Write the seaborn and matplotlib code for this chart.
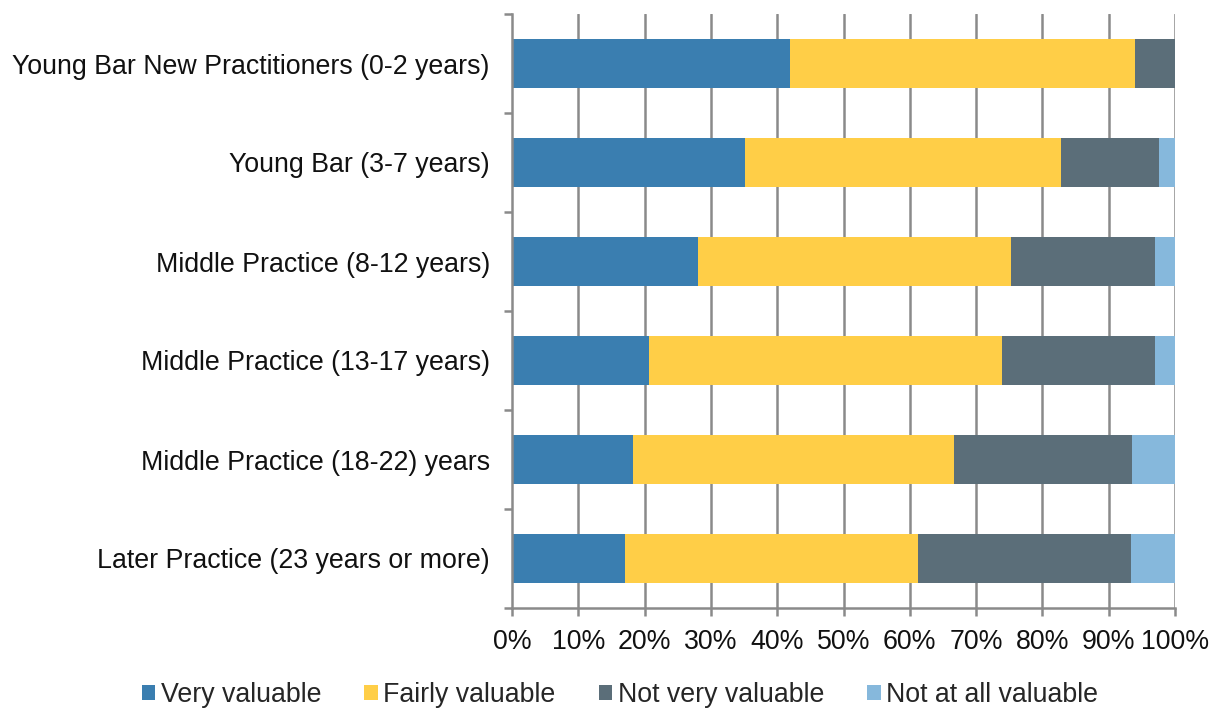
import matplotlib
matplotlib.use("Agg")
import matplotlib.pyplot as plt
import seaborn as sns
import pandas as pd
import numpy as np
from matplotlib.patches import Patch
from matplotlib.ticker import FixedLocator, PercentFormatter

categories = [
    "Young Bar New Practitioners (0-2 years)",
    "Young Bar (3-7 years)",
    "Middle Practice (8-12 years)",
    "Middle Practice (13-17 years)",
    "Middle Practice (18-22) years",
    "Later Practice (23 years or more)",
]
series_names = ["Very valuable", "Fairly valuable", "Not very valuable", "Not at all valuable"]
very_valuable = [42.0, 35.2, 28.1, 20.6, 18.2, 17.1]
fairly_valuable = [52.0, 47.6, 47.2, 53.3, 48.4, 44.2]
not_very_valuable = [6.0, 14.8, 21.7, 23.1, 26.9, 32.0]
not_at_all_valuable = [0.0, 2.4, 3.0, 3.0, 6.5, 6.7]
colors = ["#3A7EB0", "#FFCE47", "#5B6E79", "#86B8DC"]

sns.set_theme(style="white")
plt.rcParams["font.family"] = ["Liberation Sans", "DejaVu Sans"]

df = pd.DataFrame({
    "category": categories,
    series_names[0]: very_valuable,
    series_names[1]: fairly_valuable,
    series_names[2]: not_very_valuable,
    series_names[3]: not_at_all_valuable,
})
cum = df[series_names].cumsum(axis=1)

fig = plt.figure(figsize=(12.18, 7.09), dpi=100)
ax = fig.add_axes([512 / 1218, 1 - 608 / 709, (1175 - 512) / 1218, (608 - 14) / 709])

grid_c = "#8A8A8A"
fs = 19.3
for x in range(10, 101, 10):
    ax.axvline(x, color=grid_c, lw=1.8, zorder=0)

for name, col in reversed(list(zip(series_names, colors))):
    sns.barplot(x=cum[name], y=df["category"], color=col, orient="h",
                width=0.5, ax=ax, saturation=1, zorder=2, linewidth=0)

ax.set_xlim(0, 100)
ax.set_ylim(5.5, -0.5)
ax.set_xlabel("")
ax.set_ylabel("")
ax.xaxis.set_major_locator(FixedLocator(np.arange(0, 101, 10)))
ax.xaxis.set_major_formatter(PercentFormatter(decimals=0))
ax.yaxis.set_minor_locator(FixedLocator(np.arange(-0.5, 6, 1)))
ax.tick_params(axis="y", which="major", length=0, pad=16, labelsize=fs, labelcolor="#111111")
ax.tick_params(axis="y", which="minor", length=6, width=1.8, color=grid_c, left=True)
ax.tick_params(axis="x", which="major", length=6, width=1.8, color=grid_c, bottom=True,
               labelsize=fs, labelcolor="#111111", pad=9)
for s in ["top", "right"]:
    ax.spines[s].set_visible(False)
for s in ["left", "bottom"]:
    ax.spines[s].set_color(grid_c)
    ax.spines[s].set_linewidth(1.8)

handles = [Patch(facecolor=c, edgecolor="none") for c in colors]
fig.legend(handles, series_names, loc="center", bbox_to_anchor=(620 / 1218, 1 - 695 / 709), ncol=4,
           frameon=False, fontsize=fs, handlelength=0.5, handleheight=0.5,
           handletextpad=0.22, columnspacing=1.6, borderpad=0)

fig.savefig("out.png", dpi=100)
